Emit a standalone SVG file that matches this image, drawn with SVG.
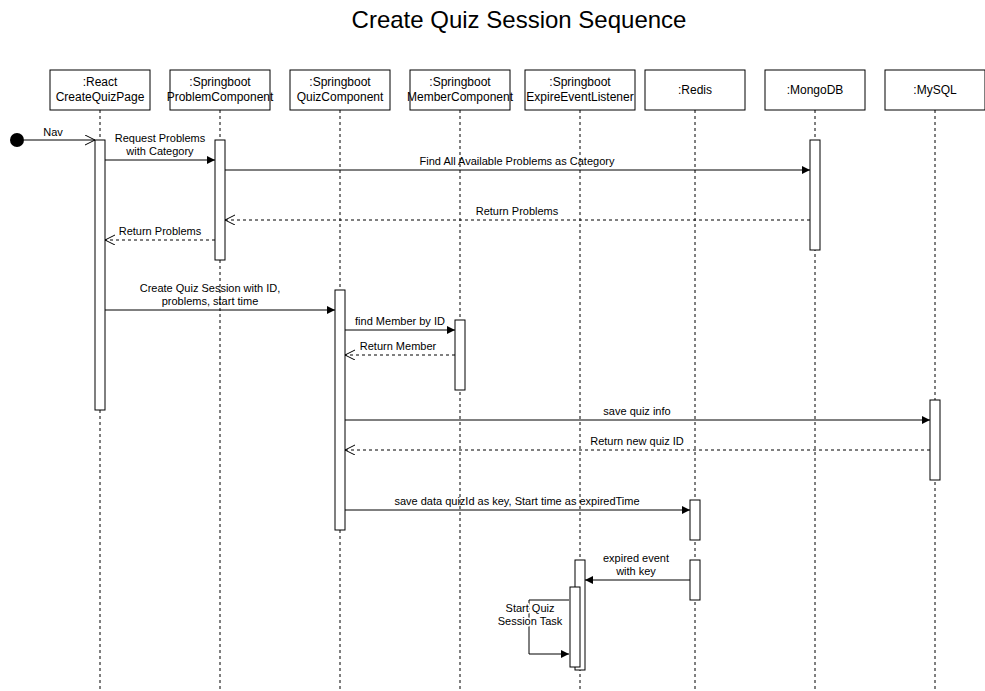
<svg xmlns="http://www.w3.org/2000/svg" width="985" height="691" viewBox="0 0 985 691">
<style>
text{font-family:"Liberation Sans",Arial,sans-serif;font-size:11px;fill:#000;text-anchor:middle}
.box{fill:#fff;stroke:#000;stroke-width:1}
.life{stroke:#000;stroke-width:1;stroke-dasharray:3,3;fill:none}
.act{fill:#fff;stroke:#000;stroke-width:1}
.msg{stroke:#000;stroke-width:1;fill:none;marker-end:url(#block)}
.ret{stroke:#000;stroke-width:1;fill:none;stroke-dasharray:3,3;marker-end:url(#open)}
.title{font-size:24px}
.name{font-size:12px}
.halo{paint-order:stroke;stroke:#fff;stroke-width:3}
</style>
<defs>
<marker id="block" markerWidth="10" markerHeight="10" refX="8" refY="4" orient="auto" markerUnits="userSpaceOnUse"><path d="M0,0 L8,4 L0,8 Z" fill="#000"/></marker>
<marker id="open" markerWidth="12" markerHeight="12" refX="10" refY="5" orient="auto" markerUnits="userSpaceOnUse"><path d="M0,0 L10,5 L0,10" fill="none" stroke="#000"/></marker>
</defs>
<rect width="985" height="691" fill="#fff"/>
<text class="title" x="519" y="28">Create Quiz Session Sequence</text>

<g id="react">
<line class="life" x1="100" y1="110" x2="100" y2="691"/>
<rect class="box" x="50" y="70" width="100" height="40"/>
<text class="name" x="100" y="86">:React</text><text class="name" x="100" y="101">CreateQuizPage</text>
<rect class="act" x="95" y="140" width="10" height="270"/>
</g>
<g id="problem">
<line class="life" x1="220" y1="110" x2="220" y2="691"/>
<rect class="box" x="170" y="70" width="100" height="40"/>
<text class="name" x="220" y="86">:Springboot</text><text class="name" x="220" y="101">ProblemComponent</text>
<rect class="act" x="215" y="140" width="10" height="120"/>
</g>
<g id="quiz">
<line class="life" x1="340" y1="110" x2="340" y2="691"/>
<rect class="box" x="290" y="70" width="100" height="40"/>
<text class="name" x="340" y="86">:Springboot</text><text class="name" x="340" y="101">QuizComponent</text>
<rect class="act" x="335" y="290" width="10" height="240"/>
</g>
<g id="member">
<line class="life" x1="460" y1="110" x2="460" y2="691"/>
<rect class="box" x="410" y="70" width="100" height="40"/>
<text class="name" x="460" y="86">:Springboot</text><text class="name" x="460" y="101">MemberComponent</text>
<rect class="act" x="455" y="320" width="10" height="70"/>
</g>
<g id="expire">
<line class="life" x1="580" y1="110" x2="580" y2="691"/>
<rect class="box" x="525" y="70" width="110" height="40"/>
<text class="name" x="580" y="86">:Springboot</text><text class="name" x="580" y="101">ExpireEventListener</text>
<rect class="act" x="575" y="560" width="10" height="110"/>
<rect class="act" x="570" y="587" width="10" height="80"/>
</g>
<g id="redis">
<line class="life" x1="695" y1="110" x2="695" y2="691"/>
<rect class="box" x="645" y="70" width="100" height="40"/>
<text class="name" x="695" y="94">:Redis</text>
<rect class="act" x="690" y="500" width="10" height="40"/>
<rect class="act" x="690" y="560" width="10" height="40"/>
</g>
<g id="mongodb">
<line class="life" x1="815" y1="110" x2="815" y2="691"/>
<rect class="box" x="765" y="70" width="100" height="40"/>
<text class="name" x="815" y="94">:MongoDB</text>
<rect class="act" x="810" y="140" width="10" height="110"/>
</g>
<g id="mysql">
<line class="life" x1="935" y1="110" x2="935" y2="691"/>
<rect class="box" x="885" y="70" width="100" height="40"/>
<text class="name" x="935" y="94">:MySQL</text>
<rect class="act" x="930" y="400" width="10" height="80"/>
</g>

<g id="connectors">
<circle cx="17" cy="140" r="7" fill="#000"/>
<path class="ret" style="stroke-dasharray:none" d="M24,140 H95"/>
<text x="53" y="136">Nav</text>

<path class="msg" d="M105,160 H215"/>
<text x="160" y="142">Request Problems</text><text x="160" y="155">with Category</text>

<path class="msg" d="M225,170 H810"/>
<text x="517" y="165">Find All Available Problems as Category</text>

<path class="ret" d="M810,220 H225"/>
<text x="517" y="215">Return Problems</text>

<path class="ret" d="M215,240 H105"/>
<text x="160" y="235">Return Problems</text>

<path class="msg" d="M105,310 H335"/>
<text x="210" y="292">Create Quiz Session with ID,</text><text x="210" y="305">problems, start time</text>

<path class="msg" d="M345,330 H455"/>
<text x="400" y="325">find Member by ID</text>

<path class="ret" d="M455,355 H345"/>
<text x="398" y="350">Return Member</text>

<path class="msg" d="M345,420 H930"/>
<text x="637" y="415">save quiz info</text>

<path class="ret" d="M930,450 H345"/>
<text x="637" y="445">Return new quiz ID</text>

<path class="msg" d="M345,510 H690"/>
<text x="517" y="505">save data quizId as key, Start time as expiredTime</text>

<path class="msg" d="M690,580 H585"/>
<text x="636" y="562">expired event</text><text x="636" y="575">with key</text>

<path class="msg" d="M569,600 H529 V654 H569"/>
<text class="halo" x="530" y="612">Start Quiz</text><text class="halo" x="530" y="625">Session Task</text>
</g>
</svg>
